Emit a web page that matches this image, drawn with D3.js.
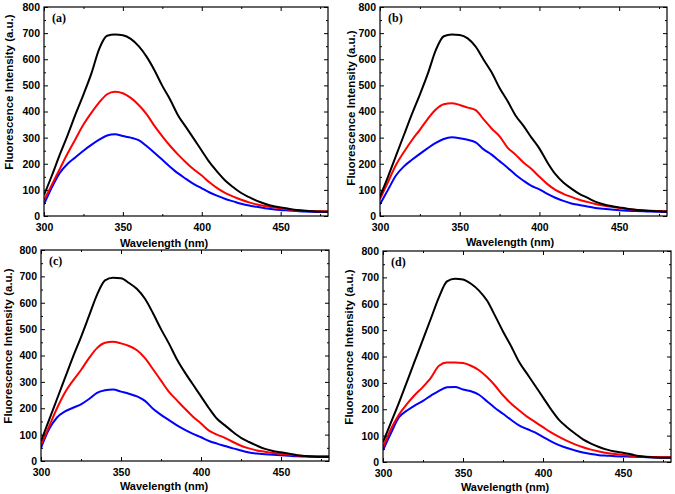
<!DOCTYPE html>
<html>
<head>
<meta charset="utf-8">
<script src="https://cdn.jsdelivr.net/npm/d3@7"></script>
<style>
  body { margin: 0; background: #fff; }
  svg { display: block; }
  .tick text { font-family: "Liberation Sans", Arial, sans-serif; font-weight: bold; font-size: 10.5px; fill: #000; }
  .domain { display: none; }
</style>
</head>
<body>
<svg id="chart" width="675" height="494"></svg>
<script>
// wavelength grid (nm)
const wavelength = [300,305,310,315,320,325,330,335,340,345,350,355,360,365,370,375,380,385,390,395,400,
  405,410,415,420,425,430,435,440,445,450,455,460,465,470,475,480];

const xTicks = [300, 350, 400, 450];
const xMinor = [325, 375, 425, 475];
const yTicks = [0, 100, 200, 300, 400, 500, 600, 700, 800];
const yMinor = [50, 150, 250, 350, 450, 550, 650, 750];

const panelNames = ["(a)", "(b)", "(c)", "(d)"];
const seriesColors = ["#000000", "#ff0000", "#0000ff"];

// panel (a)
const blackA = [80,155,235,310,390,465,545,640,690,695,692,678,650,610,558,498,445,385,340,295,250,205,168,135,110,88,72,58,47,38,33,28,23,20,18,17,16];
const redA   = [60,120,180,240,295,350,395,435,466,476,470,452,425,390,345,305,268,235,205,178,155,128,106,88,74,62,52,44,38,33,29,25,22,20,19,18,18];
const blueA  = [45,110,165,200,225,250,272,292,308,313,306,300,290,268,242,215,188,163,142,122,106,90,77,65,56,47,40,35,30,26,23,21,19,17,16,15,15];
// panel (b)
const blackB = [75,150,230,310,390,465,545,635,688,695,693,680,648,598,550,490,440,385,345,300,258,205,160,128,105,85,70,55,45,38,33,28,24,21,19,18,17];
const redB   = [65,130,195,245,290,330,372,408,428,432,425,415,405,370,335,305,262,235,205,180,150,122,100,85,73,62,54,46,40,35,31,27,24,22,20,19,18];
const blueB  = [45,100,155,190,215,238,260,280,295,301,298,292,282,255,235,210,185,158,135,115,102,85,70,58,48,42,36,31,28,25,22,20,19,18,17,16,15];
// panel (c)
const blackC = [75,155,235,315,395,470,550,630,685,695,693,675,652,615,560,500,445,385,335,290,245,200,160,135,110,88,72,58,46,38,33,28,22,19,17,16,16];
const redC   = [60,130,200,260,305,345,390,428,448,452,446,436,420,390,348,305,262,230,198,168,142,115,100,88,72,58,48,40,35,30,27,24,21,19,18,18,18];
const blueC  = [50,120,165,188,202,215,235,258,268,271,263,255,245,228,198,175,155,135,118,103,90,76,66,57,48,40,32,28,26,24,22,20,18,17,16,15,15];
// panel (d)
const blackD = [75,150,225,305,385,465,545,625,685,695,692,676,650,612,555,495,440,380,335,290,245,200,160,132,108,86,70,57,47,40,35,29,23,19,17,16,16];
const redD   = [55,125,180,220,255,285,320,365,377,377,375,365,348,322,290,253,222,196,172,152,132,112,95,80,67,56,47,40,34,30,27,24,22,20,19,18,18];
const blueD  = [45,110,170,195,215,232,252,270,283,284,275,268,255,230,205,183,160,139,125,112,95,78,64,53,44,36,30,26,24,22,21,20,19,18,17,17,17];

const panelSeries = [
  [blackA, redA, blueA],
  [blackB, redB, blueB],
  [blackC, redC, blueC],
  [blackD, redD, blueD]
];

// pixel layout of each panel
const layout = [
  {left: 44,  top: 7,   right: 328, bottom: 216, yl: [9, 92],    xl: [164, 243]},
  {left: 380, top: 7,   right: 667, bottom: 216, yl: [351, 108], xl: [510, 242]},
  {left: 41,  top: 250, right: 329, bottom: 461, yl: [8, 346],   xl: [164, 486]},
  {left: 383, top: 251, right: 671, bottom: 462, yl: [349, 347], xl: [505, 487]}
];

const svg = d3.select("#chart");

layout.forEach(function(p, i) {
  const x = d3.scaleLinear().domain([300, 480]).range([p.left, p.right]);
  const y = d3.scaleLinear().domain([0, 800]).range([p.bottom, p.top]);
  const g = svg.append("g");

  // clip the curves to the frame
  g.append("clipPath").attr("id", "clip" + i)
    .append("rect")
    .attr("x", p.left).attr("y", p.top)
    .attr("width", p.right - p.left).attr("height", p.bottom - p.top);

  const line = d3.line()
    .x(function(d, j) { return x(wavelength[j]); })
    .y(function(d) { return y(d); })
    .curve(d3.curveMonotoneX);

  // draw lower curves first so black sits on top
  [2, 1, 0].forEach(function(k) {
    g.append("path")
      .datum(panelSeries[i][k])
      .attr("clip-path", "url(#clip" + i + ")")
      .attr("fill", "none")
      .attr("stroke", seriesColors[k])
      .attr("stroke-width", 2)
      .attr("stroke-linejoin", "round")
      .attr("d", line);
  });

  // axes, ticks pointing inward
  g.append("g").attr("transform", "translate(0," + p.bottom + ")")
    .call(d3.axisBottom(x).tickValues(xTicks).tickSize(-4).tickSizeOuter(0).tickPadding(8));
  g.append("g").attr("transform", "translate(0," + p.bottom + ")")
    .call(d3.axisBottom(x).tickValues(xMinor).tickSize(-2).tickSizeOuter(0).tickFormat(""));
  g.append("g").attr("transform", "translate(0," + p.top + ")")
    .call(d3.axisTop(x).tickValues(xTicks).tickSize(-4).tickSizeOuter(0).tickFormat(""));
  g.append("g").attr("transform", "translate(0," + p.top + ")")
    .call(d3.axisTop(x).tickValues(xMinor).tickSize(-2).tickSizeOuter(0).tickFormat(""));

  g.append("g").attr("transform", "translate(" + p.left + ",0)")
    .call(d3.axisLeft(y).tickValues(yTicks).tickSize(-4).tickSizeOuter(0).tickPadding(4));
  g.append("g").attr("transform", "translate(" + p.left + ",0)")
    .call(d3.axisLeft(y).tickValues(yMinor).tickSize(-2).tickSizeOuter(0).tickFormat(""));
  g.append("g").attr("transform", "translate(" + p.right + ",0)")
    .call(d3.axisRight(y).tickValues(yTicks).tickSize(-4).tickSizeOuter(0).tickFormat(""));
  g.append("g").attr("transform", "translate(" + p.right + ",0)")
    .call(d3.axisRight(y).tickValues(yMinor).tickSize(-2).tickSizeOuter(0).tickFormat(""));

  g.selectAll(".tick line").attr("stroke", "#000").attr("stroke-width", 1);

  // frame
  g.append("rect")
    .attr("x", p.left).attr("y", p.top)
    .attr("width", p.right - p.left).attr("height", p.bottom - p.top)
    .attr("fill", "none").attr("stroke", "#000").attr("stroke-width", 1.2);

  // panel letter
  g.append("text")
    .text(panelNames[i])
    .attr("x", p.left + 8).attr("y", p.top + 15)
    .attr("font-family", "'Liberation Serif', 'Times New Roman', serif")
    .attr("font-weight", "bold")
    .attr("font-size", "12px");

  // axis titles
  g.append("text")
    .text("Wavelength (nm)")
    .attr("x", p.xl[0]).attr("y", p.xl[1])
    .attr("dy", "0.35em")
    .attr("text-anchor", "middle")
    .attr("font-family", "'Liberation Sans', Arial, sans-serif")
    .attr("font-weight", "bold")
    .attr("font-size", "11px");

  g.append("text")
    .text("Fluorescence Intensity (a.u.)")
    .attr("transform", "translate(" + p.yl[0] + "," + p.yl[1] + ") rotate(-90)")
    .attr("dy", "0.35em")
    .attr("text-anchor", "middle")
    .attr("font-family", "'Liberation Sans', Arial, sans-serif")
    .attr("font-weight", "bold")
    .attr("font-size", "11.5px");
});
</script>
</body>
</html>
